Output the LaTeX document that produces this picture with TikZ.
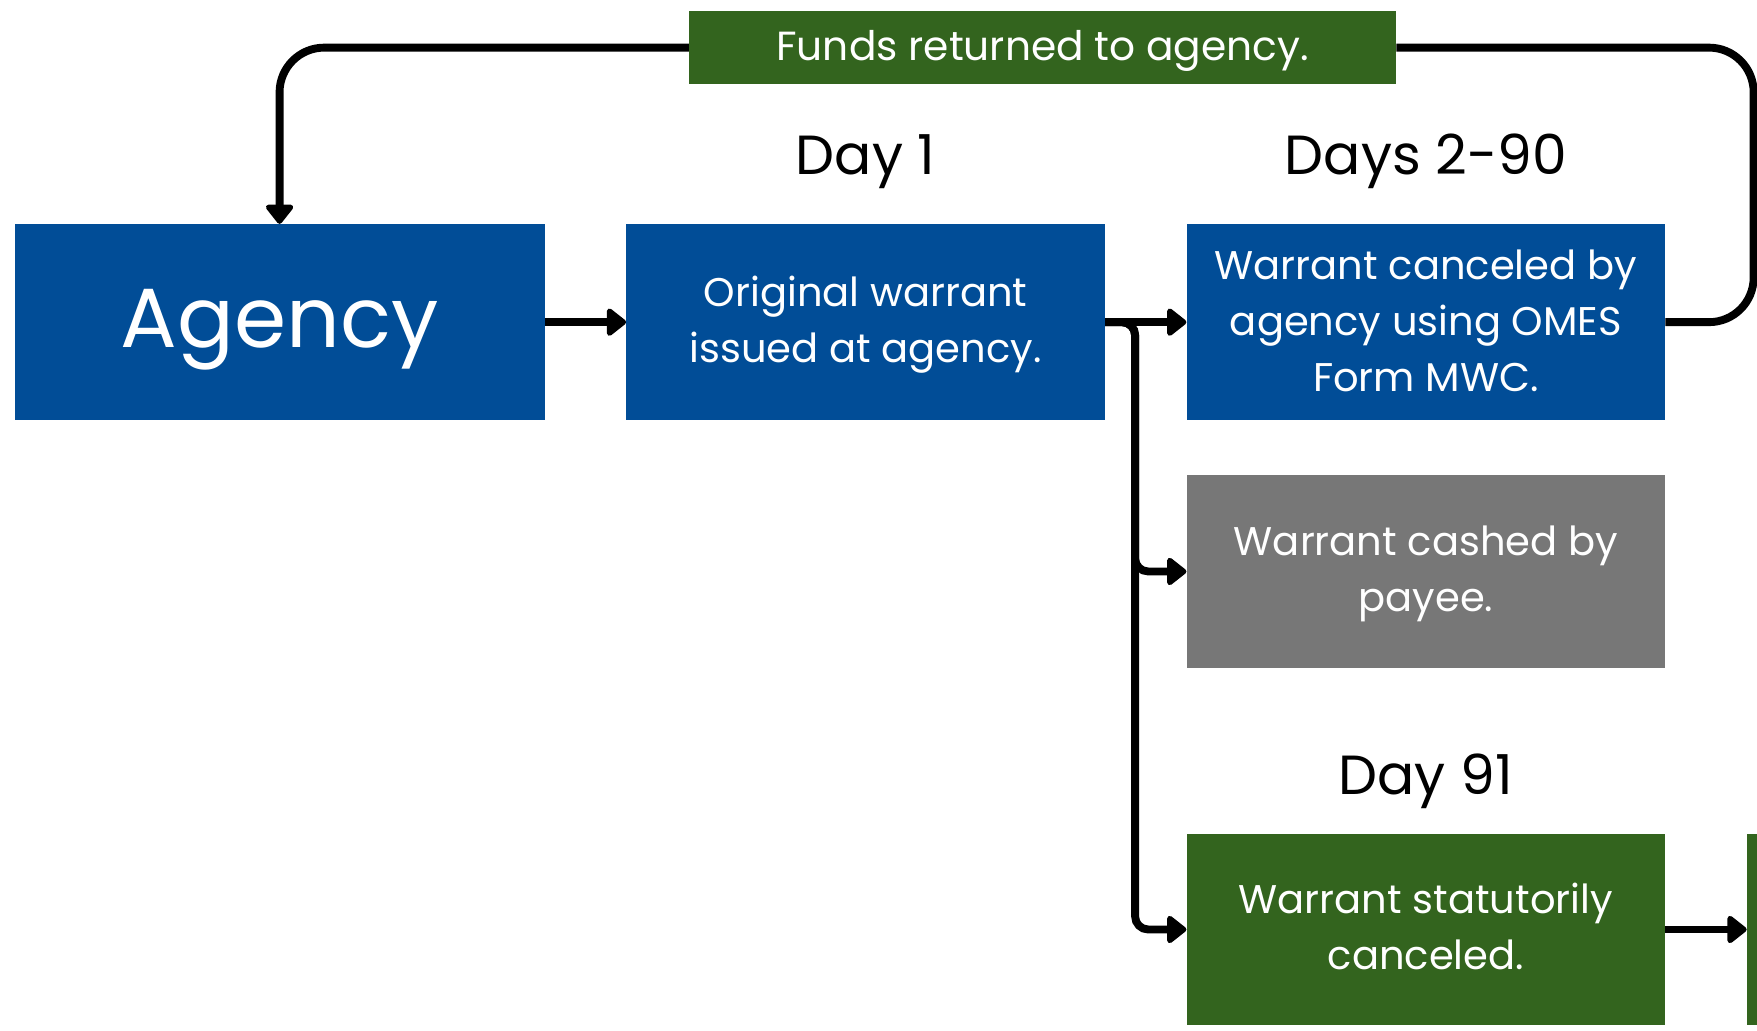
\documentclass[tikz,border=0pt]{standalone}
\usepackage{fontspec}
\setmainfont{Poppins}
\usetikzlibrary{arrows.meta}
\definecolor{cblue}{RGB}{1,77,151}
\definecolor{cgreen}{RGB}{51,100,30}
\definecolor{cgray}{RGB}{119,119,119}
\newcommand{\boxtxt}[2]{\raisebox{#1}[\height][\depth]{\begin{tabular}{@{}c@{}}#2\end{tabular}}}
\begin{document}
\begin{tikzpicture}[x=0.03cm,y=-0.03cm,
  box/.style={rectangle, inner sep=0pt, text=white, align=center,
    font=\fontsize{30.5}{42.5}\selectfont, minimum width=12.81cm, minimum height=5.25cm},
  bluebox/.style={box, fill=cblue},
  greenbox/.style={box, fill=cgreen},
  graybox/.style={box, fill=cgray},
  daylbl/.style={inner sep=0pt, anchor=base, font=\fontsize{42}{50}\selectfont},
  wire/.style={line width=6pt},
  conn/.style={wire, -{Triangle[length=16pt,width=24pt,round]}}]
\useasboundingbox (0,0) rectangle (1568,920);
\clip (0,0) rectangle (1568,920);

\node[greenbox, minimum width=18.93cm, minimum height=1.95cm, font=\fontsize{31}{42.5}\selectfont] (funds) at (930.5,42.5) {\raisebox{-10pt}[0pt][0pt]{Funds returned to agency.}};
\node[bluebox, minimum width=14.19cm, font=\fontsize{64}{70}\selectfont] (agency) at (249.5,287.5) {\raisebox{-19.2pt}[0pt][0pt]{Agency}};
\node[bluebox] (orig) at (772.5,287.5) {\boxtxt{-0.9pt}{Original warrant\\issued at agency.}};
\node[bluebox] (canc) at (1272.5,287.5) {\boxtxt{-1.7pt}{Warrant canceled by\\agency using OMES\\Form MWC.}};
\node[graybox, minimum height=5.16cm] (cash) at (1272.5,510) {\boxtxt{-0.85pt}{Warrant cashed by\\payee.}};
\node[greenbox, minimum height=5.13cm] (stat) at (1272.5,829.5) {\boxtxt{-0.9pt}{Warrant statutorily\\canceled.}};
\node[greenbox, minimum width=3cm, minimum height=5.13cm] (next) at (1609,829.5) {};

\node[daylbl] (d1) at (772.5,155.3) {Day 1};
\node[daylbl] (d2) at (1272.5,155.3) {Days 2-90};
\node[daylbl] (d91) at (1272.5,709.3) {Day 91};

\coordinate (jx) at (1013,0);
\coordinate (rx) at (1565,0);

\draw[conn] (agency) -- (orig);
\draw[conn] (orig) -- (canc);
\draw[conn, rounded corners=10pt] (orig.east) -- (orig.east -| jx) |- (cash.west);
\draw[conn, rounded corners=10pt] (orig.east) -- (orig.east -| jx) |- (stat.west);
\draw[conn] (stat) -- (next);
\draw[wire, rounded corners=34pt] (canc.east) -- (canc.east -| rx) |- (funds.east);
\draw[conn, rounded corners=34pt] (funds.west) -| (agency.north);
\end{tikzpicture}
\end{document}
